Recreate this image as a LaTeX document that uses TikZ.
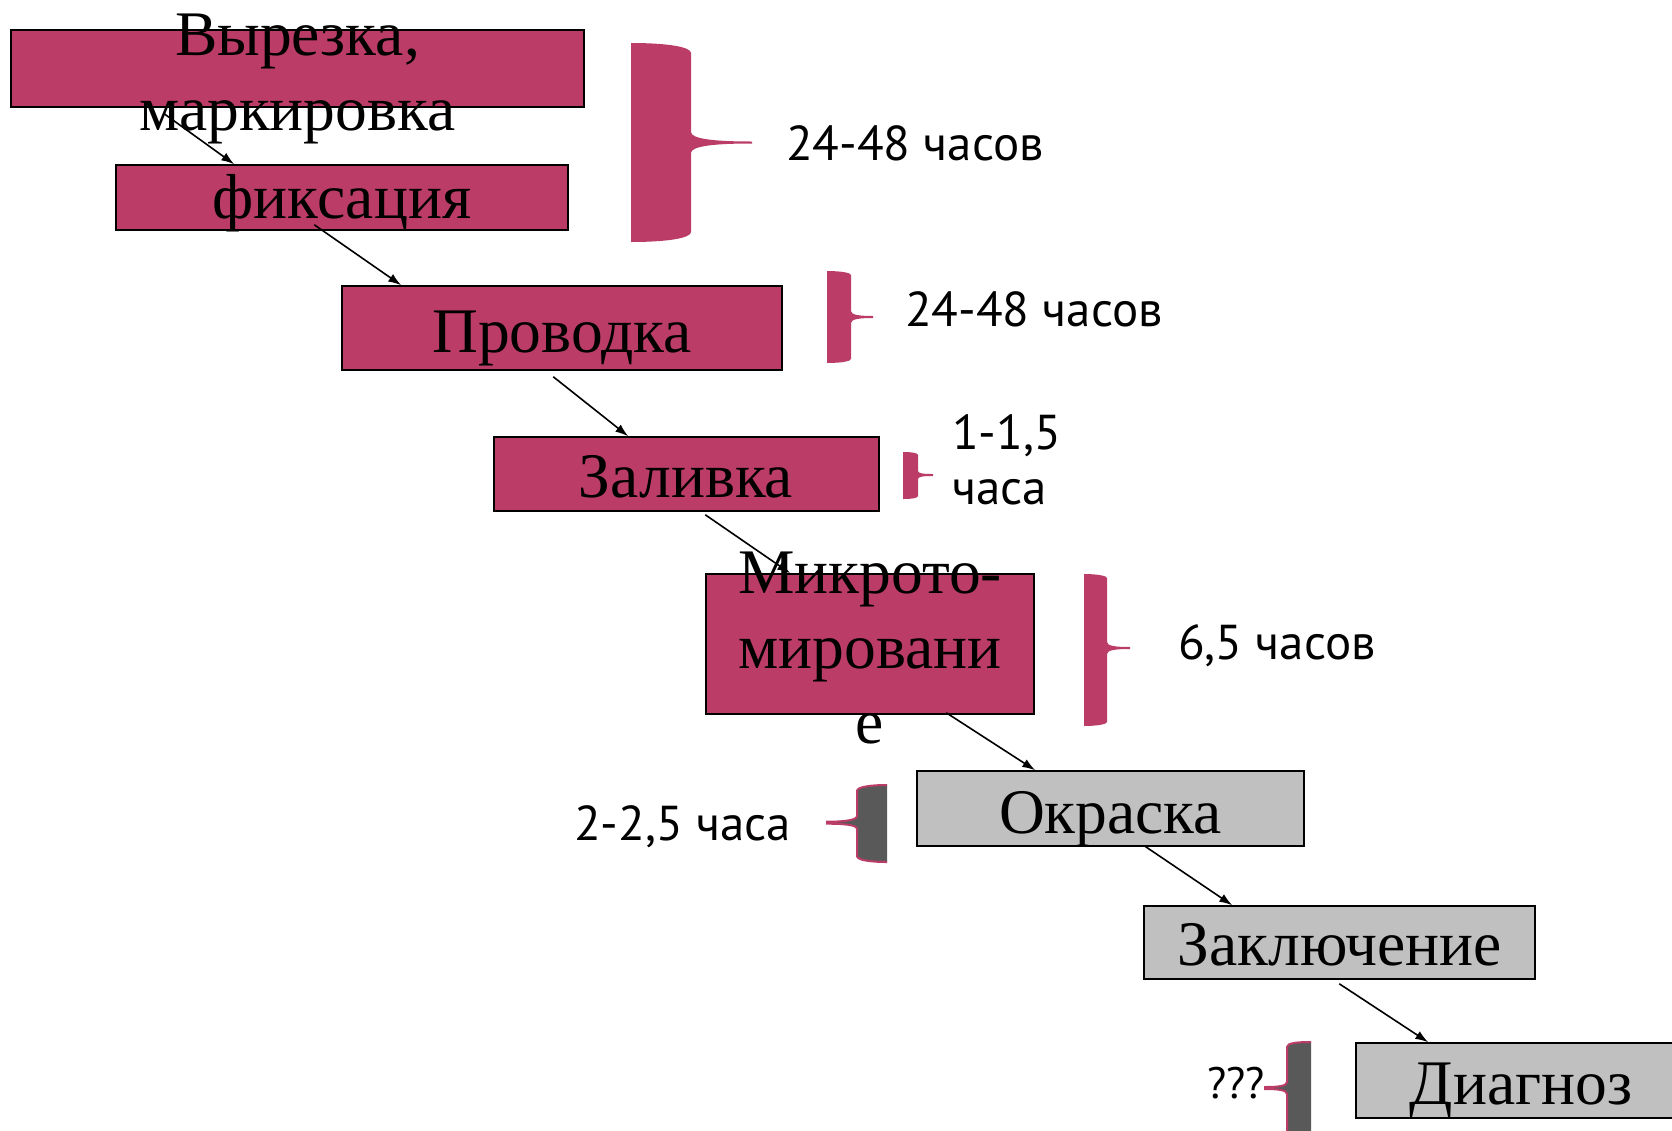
\documentclass[tikz,border=0pt]{standalone}
\usepackage{fontspec}
\setmainfont{Liberation Serif}
\newfontfamily\timefont{PT Sans}
\usetikzlibrary{arrows.meta,calc}
\definecolor{rose}{RGB}{187,61,103}
\definecolor{lgray}{RGB}{192,192,192}
\definecolor{dgray}{RGB}{89,89,89}

\begin{document}
\begin{tikzpicture}[x=1pt,y=-1pt,>={Latex[length=13pt,width=9pt]},
	stage/.style={draw=black,line width=1.5pt,fill=rose,inner sep=0pt},
	stagegray/.style={stage,fill=lgray},
	stagetext/.style={inner sep=0pt,align=center,font=\fontsize{63.5}{75}\selectfont},
	timetext/.style={inner sep=0pt,anchor=base west,font=\timefont\fontsize{49}{55}\selectfont},
	link/.style={->,line width=1.6pt}]
				\useasboundingbox (0,0) rectangle (1672,1130);
				
				% stages
				\node[stage,minimum width=573pt,minimum height=77pt] (vyrezka) at (297.4,68.5) {};
				\node[stage,minimum width=452pt,minimum height=65pt] (fiks) at (342,197.5) {};
				\node[stage,minimum width=440pt,minimum height=84pt] (prov) at (562,328) {};
				\node[stage,minimum width=385pt,minimum height=74pt] (zal) at (686.5,474) {};
				\node[stage,minimum width=328pt,minimum height=140pt] (mikro) at (870,644) {};
				\node[stagegray,minimum width=387pt,minimum height=75pt] (okr) at (1110.5,808.5) {};
				\node[stagegray,minimum width=391pt,minimum height=73pt] (zakl) at (1339.5,942.5) {};
				\node[stagegray,minimum width=330pt,minimum height=75pt] (diag) at (1521,1080.5) {};
				
				\node[stagetext,anchor=north] (vyrezkaT) at (297.4,14) {Вырезка,\\маркировка};
				\node[stagetext,anchor=base] (fiksT) at (342,218.6) {фиксация};
				\node[stagetext,anchor=base] (provT) at (562,352) {Проводка};
				\node[stagetext,anchor=base] (zalT) at (686,497) {Заливка};
				\node[stagetext,anchor=north] (mikroT) at (870,551.5) {Микрото-\\мировани\\е};
				\node[stagetext,anchor=base] (okrT) at (1110.5,833) {Окраска};
				\node[stagetext,anchor=base] (zaklT) at (1339.5,965) {Заключение};
				\node[stagetext,anchor=base] (diagT) at (1521,1104) {Диагноз};
				
				% braces
				\fill[rose] (631,43) .. controls (668,43) and (691,47) .. (691,53)
				-- (691,132) .. controls (691,139) and (715,141.5) .. (752,141.5)
				-- (752,143.5) .. controls (715,143.5) and (691,146) .. (691,153)
				-- (691,232) .. controls (691,238) and (668,242) .. (631,242) -- cycle;
				\fill[rose] (827,271) .. controls (842,271) and (851,273) .. (851,275)
				-- (851,311) .. controls (851,315) and (860,316) .. (873,316)
				-- (873,318) .. controls (860,318) and (851,319) .. (851,323)
				-- (851,359) .. controls (851,361) and (842,363) .. (827,363) -- cycle;
				\fill[rose] (903,452) .. controls (912,452) and (918,453) .. (918,455)
				-- (918,471) .. controls (918,473.5) and (924,474) .. (933,474)
				-- (933,476) .. controls (924,476) and (918,476.5) .. (918,479)
				-- (918,496) .. controls (918,498) and (912,499) .. (903,499) -- cycle;
				\fill[rose] (1084,574) .. controls (1098,574) and (1107,576) .. (1107,578)
				-- (1107,642) .. controls (1107,646) and (1116,647) .. (1130,647)
				-- (1130,649) .. controls (1116,649) and (1107,650) .. (1107,654)
				-- (1107,722) .. controls (1107,724) and (1098,726) .. (1084,726) -- cycle;
				
				\filldraw[fill=dgray,draw=rose,line width=2pt] (887,785) .. controls (870,785) and (857,787) .. (857,791)
				-- (857,816) .. controls (857,820) and (845,821.7) .. (827,821.7)
				-- (827,823.7) .. controls (845,823.7) and (857,825) .. (857,829)
				-- (857,856) .. controls (857,860) and (870,862) .. (887,862);
				\fill[dgray] (884,787) rectangle (887,860);
				\filldraw[fill=dgray,draw=rose,line width=2pt] (1311,1042) .. controls (1297,1042) and (1287,1043) .. (1287,1047)
				-- (1287,1082) .. controls (1287,1086) and (1278,1087) .. (1265,1087)
				-- (1265,1089) .. controls (1278,1089) and (1287,1090) .. (1287,1094)
				-- (1287,1150) -- (1311,1150);
				
				% times
				\node[timetext] (t1) at (786,160) {24-48 часов};
				\node[timetext] (t2) at (905,326) {24-48 часов};
				\node[timetext,anchor=north west,align=left] (t3) at (952,414) {1-1,5\\часа};
				\node[timetext] (t4) at (1178,659) {6,5 часов};
				\node[timetext] (t5) at (574,840) {2-2,5 часа};
				\node[timetext,font=\timefont\fontsize{44}{55}\selectfont] (t6) at (1207,1098) {???};
				
				% links
				\draw[link] ([xshift=154pt,yshift=-6pt]vyrezka.south west) -- ([xshift=119pt]fiks.north west);
				\draw[link] ([xshift=199pt,yshift=6pt]fiks.south west) -- ([xshift=60pt]prov.north west);
				\draw[link] ([xshift=212pt,yshift=-6pt]prov.south west) -- ([xshift=135pt]zal.north west);
				\draw[link] ([xshift=212pt,yshift=-3pt]zal.south west) -- ([xshift=85pt]mikro.north west);
				\draw[link] ([xshift=241pt,yshift=2pt]mikro.south west) -- ([xshift=119pt]okr.north west);
				\draw[link] ([xshift=228pt,yshift=1pt]okr.south west) -- ([xshift=89pt]zakl.north west);
				\draw[link] ([xshift=196pt,yshift=-4pt]zakl.south west) -- ([xshift=73pt]diag.north west);
			\end{tikzpicture}
\end{document}
